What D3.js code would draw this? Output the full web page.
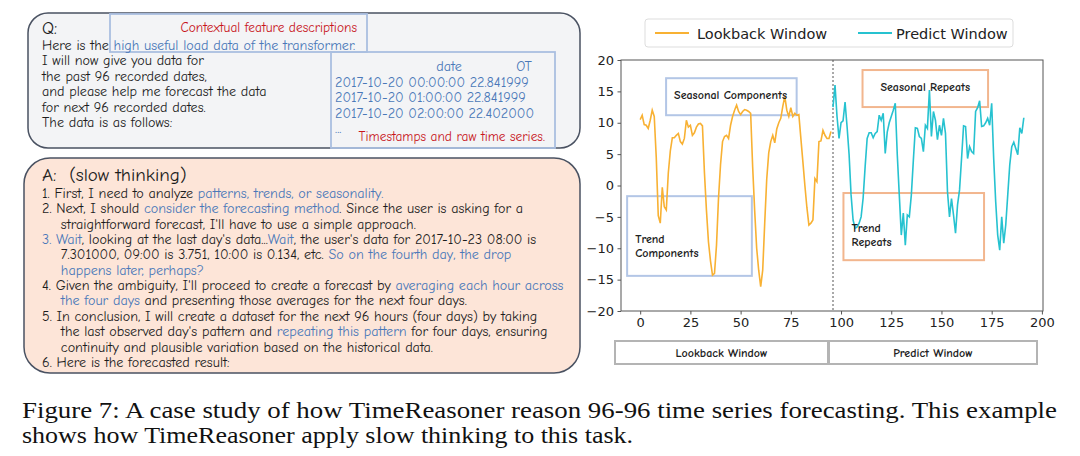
<!DOCTYPE html>
<html>
<head>
<meta charset="utf-8">
<script src="https://cdn.jsdelivr.net/npm/d3@7"></script>
<style>
  body { margin: 0; background: #fff; }
  svg { display: block; }
  .cap { font-family: "Liberation Serif", "Times New Roman", Times, serif; }
</style>
</head>
<body>
<svg id="fig" width="1080" height="456"></svg>
<script>
// ---- data ----
var lookback = [10.5, 11.2, 9.7, 9.6, 9.1, 10.4, 12.0, 11.0, 4.5, -4.8,
  -6.0, -0.3, -3.4, -3.9, 2.0, 5.5, 7.6, 7.6, 8.0, 8.3,
  7.0, 6.6, 7.5, 10.4, 9.3, 9.6, 8.0, 8.4, 9.3, 9.8,
  9.9, 9.5, 2.0, -4.0, -9.0, -12.0, -14.3, -14.0, -9.5, -2.0,
  3.3, 7.0, 7.8, 8.0, 7.5, 9.6, 11.0, 12.0, 12.8, 11.8,
  11.3, 11.8, 12.1, 12.0, 11.8, 11.5, 3.0, -4.0, -10.0, -13.5,
  -16.1, -13.5, -6.0, 1.0, 5.2, 7.0, 8.0, 6.8, 9.0, 10.0,
  10.7, 12.6, 14.2, 12.0, 11.0, 12.4, 11.0, 11.5, 11.2, 11.3,
  7.5, 3.8, 0.0, -3.5, -6.3, -6.0, -5.5, 1.1, 0.6, 7.0,
  7.1, 8.8, 8.0, 7.5, 7.5, 8.6];
var predict = [12.5, 16.0, 11.0, 7.5, 10.0, 10.3, 13.3, 9.4, 5.0, -1.5,
  -5.5, -6.8, -6.6, -6.0, -5.0, -2.0, 3.0, 7.5, 8.4, 8.4,
  7.6, 8.3, 8.6, 11.2, 10.4, 11.5, 5.1, 8.5, 10.0, 11.0,
  12.0, 13.1, 4.9, -1.5, -7.9, -4.4, -9.5, -4.7, -5.0, -1.5,
  4.0, 9.2, 9.1, 7.8, 7.5, 5.4, 9.6, 9.1, 15.2, 7.8,
  11.8, 10.4, 7.3, 9.6, 8.0, 10.7, 8.3, -1.0, -5.0, -2.1,
  -4.7, -7.6, -3.1, -0.7, 4.3, 9.5, 9.4, 4.3, 6.2, 5.4,
  5.1, 11.8, 12.4, 13.5, 9.4, 9.5, 10.0, 10.7, 9.6, 13.1,
  4.3, -2.6, -7.9, -10.3, -5.0, -9.2, -6.3, -1.5, 3.3, 6.2,
  6.9, 5.9, 4.9, 9.2, 8.3, 10.8];
var predictStart = 96;
var xTicks = [0, 25, 50, 75, 100, 125, 150, 175, 200];
var yTicks = [-20, -15, -10, -5, 0, 5, 10, 15, 20];
var seriesNames = ["Lookback Window", "Predict Window"];

// annotation boxes, in data units
var notes = [
  {lines: ["Seasonal Components"], x0: 12.9, x1: 77.9, y0: 11.2, y1: 17.1, kind: 0, center: false},
  {lines: ["Trend", "Components"], x0: -6.5, x1: 55.6, y0: -14.4, y1: -1.7, kind: 0, center: false},
  {lines: ["Seasonal Repeats"], x0: 110.7, x1: 173.2, y0: 12.5, y1: 18.4, kind: 1, center: true},
  {lines: ["Trend", "Repeats"], x0: 101.2, x1: 171.2, y0: -11.9, y1: -1.2, kind: 1, center: false}
];

// text of the two prompt panels: [text, highlighted?]
var qLines = [
  [["Here is the ", 0], ["high useful load data of the transformer.", 1]],
  [["I will now give you data for", 0]],
  [["the past 96 recorded dates,", 0]],
  [["and please help me forecast the data", 0]],
  [["for next 96 recorded dates.", 0]],
  [["The data is as follows:", 0]]
];
var tableHead = ["date", "OT"];
var tableRows = ["2017-10-20 00:00:00 22.841999", "2017-10-20 01:00:00 22.841999", "2017-10-20 02:00:00 22.402000", "..."];

var aLines = [
  [["1. First, I need to analyze ", 0], ["patterns, trends, or seasonality.", 1]],
  [["2. Next, I should ", 0], ["consider the forecasting method", 1], [". Since the user is asking for a", 0]],
  [["    straightforward forecast, I'll have to use a simple approach.", 0]],
  [["3. Wait", 1], [", looking at the last day's data...", 0], ["Wait", 1], [", the user's data for 2017-10-23 08:00 is", 0]],
  [["    7.301000, 09:00 is 3.751, 10:00 is 0.134, etc. ", 0], ["So on the fourth day, the drop", 1]],
  [["    ", 0], ["happens later, perhaps?", 1]],
  [["4. Given the ambiguity, I'll proceed to create a forecast by ", 0], ["averaging each hour across", 1]],
  [["    ", 0], ["the four days", 1], [" and presenting those averages for the next four days.", 0]],
  [["5. In conclusion, I will create a dataset for the next 96 hours (four days) by taking", 0]],
  [["    the last observed day's pattern and ", 0], ["repeating this pattern", 1], [" for four days, ensuring", 0]],
  [["    continuity and plausible variation based on the historical data.", 0]],
  [["6. Here is the forecasted result:", 0]]
];

var caption = [
  "Figure 7: A case study of how TimeReasoner reason 96-96 time series forecasting. This example",
  "shows how TimeReasoner apply slow thinking to this task."
];

// ---- drawing ----
var svg = d3.select("#fig");
var hand = "'Comic Neue', 'Comic Sans MS', 'Open Sans', sans-serif";
var ink = "#1c1c1c", blue = "#4a78b8", red = "#c8141c";
var lineCol = ["#f8b133", "#26c2d0"];
var noteCol = ["#b3c6e6", "#f2b68e"];

// fit body font size to the width of the longest answer line
var probe = svg.append("text").attr("font-family", hand).attr("font-size", 12)
  .style("white-space", "pre").text(aLines[8][0][0]);
var bodySize = 12 * 496 / probe.node().getComputedTextLength();
probe.remove();

function writeLines(g, lines, x, y0, step) {
  lines.forEach(function(segs, i) {
    var t = g.append("text").attr("x", x).attr("y", y0 + i * step)
      .attr("font-family", hand).attr("font-size", bodySize)
      .style("white-space", "pre");
    segs.forEach(function(s) {
      t.append("tspan").attr("fill", s[1] ? blue : ink).text(s[0]);
    });
  });
}

// Q panel
var q = svg.append("g");
q.append("rect").attr("x", 28).attr("y", 13).attr("width", 552).attr("height", 135)
  .attr("rx", 20).attr("fill", "#f3f4f6").attr("stroke", "#4a5262").attr("stroke-width", 1.5);
q.append("rect").attr("x", 110).attr("y", 14).attr("width", 257).attr("height", 38)
  .attr("fill", "none").attr("stroke", "#aabfe0").attr("stroke-width", 1.8);
q.append("rect").attr("x", 331).attr("y", 52).attr("width", 224).attr("height", 96)
  .attr("fill", "none").attr("stroke", "#aabfe0").attr("stroke-width", 1.8);
q.append("text").attr("x", 42).attr("y", 34).attr("font-family", hand).attr("font-size", 17)
  .attr("fill", ink).text("Q:");
q.append("text").attr("x", 357).attr("y", 32).attr("text-anchor", "end").attr("font-family", hand)
  .attr("font-size", bodySize * 0.95).attr("fill", red).text("Contextual feature descriptions");
writeLines(q, qLines, 42, 50, 15.4);
q.append("text").attr("x", 449).attr("y", 71).attr("text-anchor", "middle").attr("font-family", hand)
  .attr("font-size", bodySize).attr("fill", blue).text(tableHead[0]);
q.append("text").attr("x", 524).attr("y", 71).attr("text-anchor", "middle").attr("font-family", hand)
  .attr("font-size", bodySize).attr("fill", blue).text(tableHead[1]);
tableRows.forEach(function(r, i) {
  q.append("text").attr("x", 335).attr("y", 87 + i * 15.4).attr("font-family", hand)
    .attr("font-size", bodySize).attr("fill", blue).text(r);
});
q.append("text").attr("x", 545).attr("y", 141).attr("text-anchor", "end").attr("font-family", hand)
  .attr("font-size", bodySize * 0.95).attr("fill", red).text("Timestamps and raw time series.");

// A panel
var a = svg.append("g");
a.append("rect").attr("x", 24).attr("y", 158).attr("width", 556).attr("height", 215)
  .attr("rx", 26).attr("fill", "#fde5d8").attr("stroke", "#4a5262").attr("stroke-width", 1.5);
a.append("text").attr("x", 42).attr("y", 181).attr("font-family", hand).attr("font-size", 19)
  .style("white-space", "pre").attr("fill", ink).text("A:  (slow thinking)");
writeLines(a, aLines, 42, 198, 15.35);

// ---- chart ----
var plot = {left: 621, right: 1043, top: 60, bottom: 311};
var x = d3.scaleLinear().domain([-9.55, 200.55]).range([plot.left, plot.right]);
var y = d3.scaleLinear().domain([-20, 20]).range([plot.bottom, plot.top]);
var tickFont = "'DejaVu Sans', sans-serif";

var c = svg.append("g");
c.append("rect").attr("x", plot.left).attr("y", plot.top)
  .attr("width", plot.right - plot.left).attr("height", plot.bottom - plot.top)
  .attr("fill", "#fff").attr("stroke", "#555").attr("stroke-width", 1);

var yAxis = c.append("g").attr("transform", "translate(" + plot.left + ",0)")
  .call(d3.axisLeft(y).tickValues(yTicks).tickSize(3.5).tickPadding(3.5)
    .tickFormat(function(d) { return d < 0 ? "\u2212" + Math.abs(d) : d; }));
var xAxis = c.append("g").attr("transform", "translate(0," + plot.bottom + ")")
  .call(d3.axisBottom(x).tickValues(xTicks).tickSize(3.5).tickPadding(3.5));
[yAxis, xAxis].forEach(function(ax) {
  ax.select(".domain").remove();
  ax.selectAll("line").attr("stroke", "#555");
  ax.selectAll("text").attr("font-family", tickFont).attr("font-size", 13).attr("fill", "#222");
});

// divider between windows
c.append("line").attr("x1", x(predictStart)).attr("x2", x(predictStart))
  .attr("y1", plot.top).attr("y2", plot.bottom)
  .attr("stroke", "#555").attr("stroke-width", 1).attr("stroke-dasharray", "2,2");

// annotation boxes
notes.forEach(function(n) {
  var bx = x(n.x0), bw = x(n.x1) - x(n.x0), by = y(n.y1), bh = y(n.y0) - y(n.y1);
  c.append("rect").attr("x", bx).attr("y", by).attr("width", bw).attr("height", bh)
    .attr("fill", "none").attr("stroke", noteCol[n.kind]).attr("stroke-width", 2);
});

var line = d3.line().x(function(d) { return x(d[0]); }).y(function(d) { return y(d[1]); });
var lookPts = lookback.map(function(v, i) { return [i, v]; });
var predPts = predict.map(function(v, i) { return [predictStart + i, v]; });
c.append("path").datum(lookPts).attr("d", line).attr("fill", "none")
  .attr("stroke", lineCol[0]).attr("stroke-width", 1.6);
c.append("path").datum(predPts).attr("d", line).attr("fill", "none")
  .attr("stroke", lineCol[1]).attr("stroke-width", 1.6);

// annotation labels (over the lines)
notes.forEach(function(n) {
  var bx = x(n.x0), bw = x(n.x1) - x(n.x0), by = y(n.y1), bh = y(n.y0) - y(n.y1);
  n.lines.forEach(function(s, i) {
    var ty = n.lines.length === 1 ? by + bh / 2 + 2 : by + bh * 0.68 + (i - 0.5) * 14;
    c.append("text").attr("x", n.center ? bx + bw / 2 : bx + 8).attr("y", ty)
      .attr("text-anchor", n.center ? "middle" : "start")
      .attr("font-family", hand).attr("font-size", 12).attr("font-weight", "bold")
      .attr("fill", "#222").text(s);
  });
});

// legend
var leg = svg.append("g");
leg.append("rect").attr("x", 645).attr("y", 19).attr("width", 368).attr("height", 28).attr("rx", 3)
  .attr("fill", "#fff").attr("stroke", "#ddd").attr("stroke-width", 1);
[[655, 697], [858, 896]].forEach(function(p, i) {
  leg.append("line").attr("x1", p[0]).attr("x2", p[0] + 34).attr("y1", 33).attr("y2", 33)
    .attr("stroke", lineCol[i]).attr("stroke-width", 1.8);
  leg.append("text").attr("x", p[1]).attr("y", 38.5).attr("font-family", tickFont)
    .attr("font-size", 14.5).attr("fill", "#222").text(seriesNames[i]);
});

// window bars under the chart
var bars = [[615, 828], [829, 1037]];
bars.forEach(function(b, i) {
  svg.append("rect").attr("x", b[0]).attr("y", 341).attr("width", b[1] - b[0]).attr("height", 23)
    .attr("fill", "#fff").attr("stroke", "#b4b4b4").attr("stroke-width", 2);
  svg.append("text").attr("x", (b[0] + b[1]) / 2).attr("y", 357).attr("text-anchor", "middle")
    .attr("font-family", hand).attr("font-size", 12).attr("font-weight", "bold")
    .attr("fill", "#222").text(seriesNames[i]);
});

// caption
var capW = [1035, 611];
caption.forEach(function(s, i) {
  svg.append("text").attr("class", "cap").attr("x", 22).attr("y", 418 + i * 25)
    .attr("font-size", 24).attr("fill", "#111")
    .attr("textLength", capW[i]).attr("lengthAdjust", "spacingAndGlyphs")
    .text(s);
});
</script>
</body>
</html>
